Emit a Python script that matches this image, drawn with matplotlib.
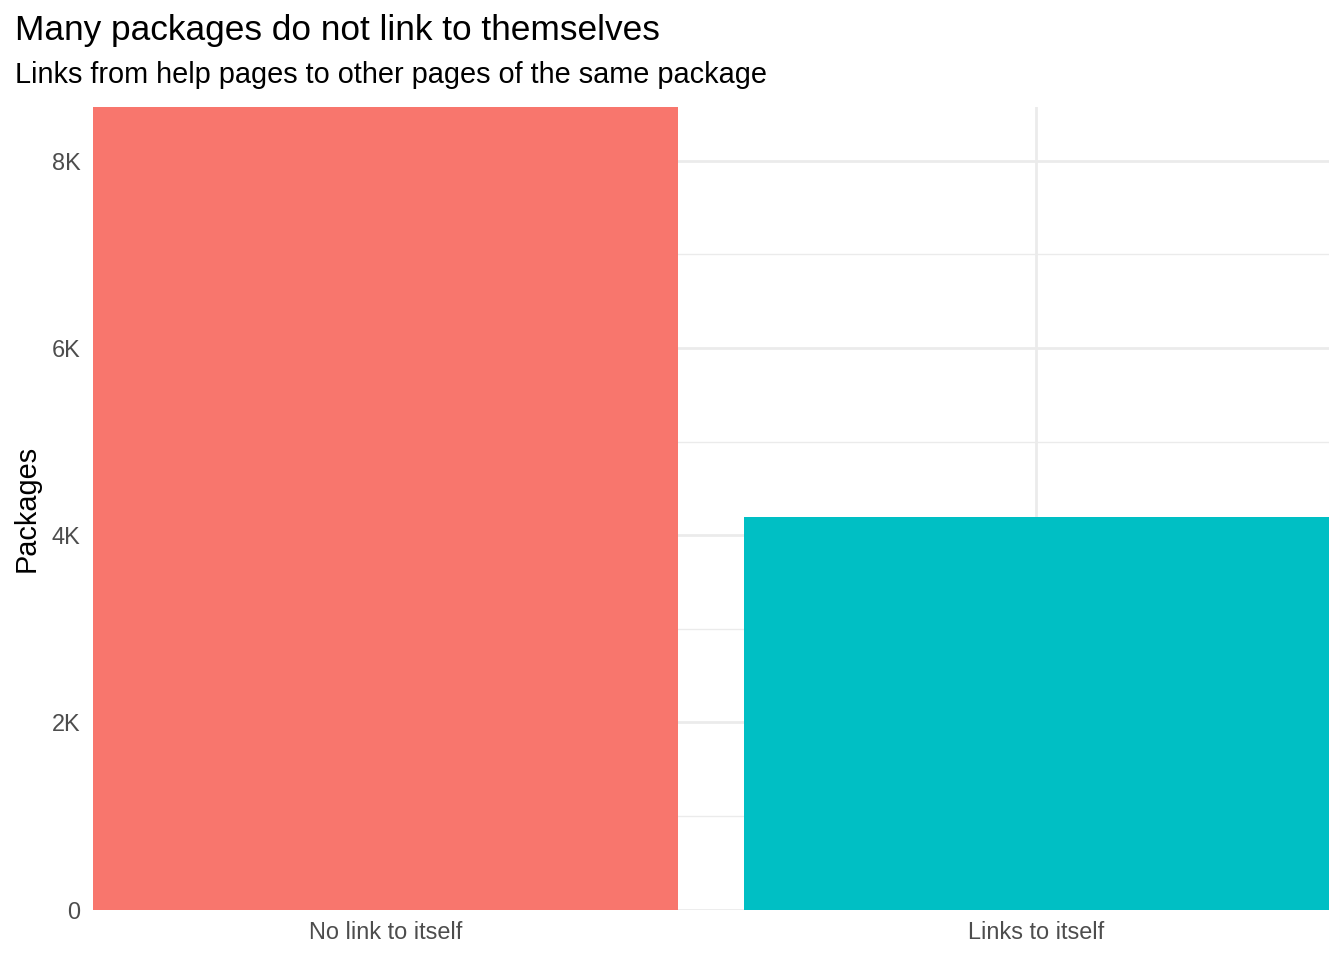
import numpy as np
import matplotlib
matplotlib.use("Agg")
import matplotlib.pyplot as plt
from matplotlib.ticker import FixedLocator, FuncFormatter

plt.rcParams["font.family"] = ["Liberation Sans", "DejaVu Sans"]

# data
categories = ["No link to itself", "Links to itself"]
packages = [8577, 4198]
bar_colors = ["#F8766D", "#00BFC4"]
major_ticks = [0, 2000, 4000, 6000, 8000]
minor_ticks = [1000, 3000, 5000, 7000]

W, H = 1344, 960
fig = plt.figure(figsize=(W / 100, H / 100), dpi=100)
ax = fig.add_axes([93 / W, (H - 909.7) / H, (1329 - 93) / W, (909.7 - 106.7) / H])

x = np.arange(1, len(categories) + 1)
ax.bar(x, packages, width=0.9, color=bar_colors, zorder=3)

ax.set_xlim(0.55, 2.45)
ax.set_ylim(0, max(packages))

# ggplot-like minimal theme grid
ax.yaxis.set_major_locator(FixedLocator(major_ticks))
ax.yaxis.set_minor_locator(FixedLocator(minor_ticks))
ax.yaxis.set_major_formatter(FuncFormatter(lambda v, p: "0" if v == 0 else f"{int(v / 1000)}K"))
ax.set_xticks(x)
ax.set_xticklabels(categories)
ax.grid(which="major", axis="both", color="#EBEBEB", lw=2.0, zorder=0)
ax.grid(which="minor", axis="y", color="#EBEBEB", lw=1.0, zorder=0)
for s in ax.spines.values():
    s.set_visible(False)
ax.tick_params(which="both", length=0)
ax.tick_params(axis="y", pad=9, labelsize=16.9, labelcolor="#4D4D4D")
ax.tick_params(axis="x", pad=8, labelsize=16.9, labelcolor="#4D4D4D")

fig.text(27 / W, 1 - 508 / H, "Packages", rotation=90, fontsize=20.8,
         ha="center", va="center", transform=fig.transFigure)
fig.text(15 / W, 1 - 40 / H, "Many packages do not link to themselves",
         fontsize=25.4, ha="left", va="baseline")
fig.text(15 / W, 1 - 83 / H, "Links from help pages to other pages of the same package",
         fontsize=20.8, ha="left", va="baseline")

fig.savefig("out.png", dpi=100)
